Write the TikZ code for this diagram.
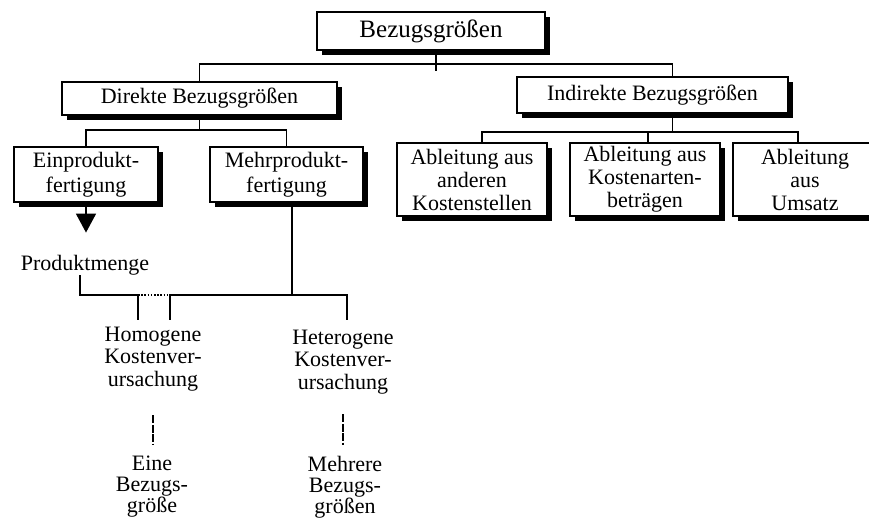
\documentclass[tikz,border=0pt]{standalone}
\usepackage{fontspec}
\setmainfont{Liberation Serif}
\usetikzlibrary{positioning,arrows.meta,shadows}
\tikzset{
  box/.style   ={draw=black,line width=1pt,fill=white,inner sep=0pt,align=center,
                 font=\fontsize{11}{12.5}\selectfont,
                 drop shadow={shadow xshift=2.5pt,shadow yshift=-2.5pt,opacity=1,fill=black}},
  ttlbox/.style={box,font=\fontsize{12.5}{14}\selectfont},
  kind/.style  ={box,minimum height=27.5pt},
  abl/.style   ={box,minimum width=75pt,minimum height=36.5pt,font=\fontsize{11}{11.5}\selectfont},
  txt/.style   ={inner sep=0pt,align=center,font=\fontsize{11}{11.25}\selectfont},
  res/.style   ={txt,font=\fontsize{11}{10.5}\selectfont},
  ln/.style    ={draw=black,line width=.8pt},
  dotln/.style ={draw=black,line width=.6pt,dash pattern=on .8pt off .8pt},
  vln/.style   ={draw=black,line width=.6pt,dash pattern=on 4pt off .7pt},
  ar/.style    ={-{Triangle[length=9.5pt,width=10pt]},ln},
}
\begin{document}
\begin{tikzpicture}[x=.5pt,y=-.5pt]
\useasboundingbox (0,0) rectangle (869,528);

% ============================ top level =================================
\node[ttlbox,minimum width=114pt,minimum height=19pt] (top) at (431,31) {Bezugsgrößen};
\node[box,minimum width=137.5pt,minimum height=16.5pt] (dir) at (199.5,98.5) {Direkte Bezugsgrößen};
\node[box,minimum width=135.5pt,minimum height=18pt] (ind) at (652.5,95) {Indirekte Bezugsgrößen};
\coordinate (bus0) at (436,64);
\draw[ln] (top.south -| bus0) -- ++(0,20);
\draw[ln] (dir.north) |- (bus0) -| ([xshift=10pt]ind.north);

% ============================ direkte ===================================
\node[kind,minimum width=72pt] (ein) at (86,174.5) {Einprodukt-\\fertigung};
\node[kind,minimum width=76.5pt] (mehr) at (286.5,174.5) {Mehrprodukt-\\fertigung};
\coordinate (bus1) at (199.5,130);
\draw[ln] (dir.south) -- (bus1);
\draw[ln] (ein.north) |- (bus1) -| (mehr.north);

\node[txt] (prod) at (85,265) {Produktmenge};
\draw[ar,shorten >=11pt] (ein.south) -- (ein.south |- prod.north);

\node[txt] (hom) at (153,359) {Homogene\\Kostenver-\\ursachung};
\node[txt] (het) at (343,362) {Heterogene\\Kostenver-\\ursachung};
\coordinate (pbus) at (138,295);
\coordinate (bus2) at (292,295);
\coordinate (homtop) at (170,320);
\coordinate (hettop) at (347,320);
\draw[ln] ([xshift=-2.5pt]prod.south) |- (pbus) -- ++(0,25);
\draw[dotln] (pbus) -- (pbus -| homtop);
\draw[ln] ([xshift=2.75pt]mehr.south) -- (bus2);
\draw[ln] (homtop) |- (bus2) -| (hettop);

\node[res] (eine) at (152,487) {Eine\\Bezugs-\\größe};
\node[res] (mehrere) at (345,487) {Mehrere\\Bezugs-\\größen};
\draw[vln,shorten <=12pt,shorten >=5.5pt] (hom.south) -- (hom.south |- eine.north);
\draw[vln,shorten <=10pt,shorten >=5.5pt] (het.south) -- (het.south |- mehrere.north);

% ============================ indirekte =================================
\node[abl] (abl1) at (472,179.5) {Ableitung aus\\anderen\\Kostenstellen};
\node[abl] (abl2) at (645,179.5) {Ableitung aus\\Kostenarten-\\beträgen};
\node[abl,minimum width=72pt] (abl3) at (805,179.5) {Ableitung\\aus\\Umsatz};
\coordinate (bus3) at (672.5,132);
\draw[ln] ([xshift=10pt]ind.south) -- (bus3);
\draw[ln] ([xshift=5pt]abl1.north) |- (bus3) -| ([xshift=-3.5pt]abl3.north);
\draw[ln] ([xshift=1.5pt]abl2.north) -- ([xshift=1.5pt]abl2.north |- bus3);
\end{tikzpicture}
\end{document}
